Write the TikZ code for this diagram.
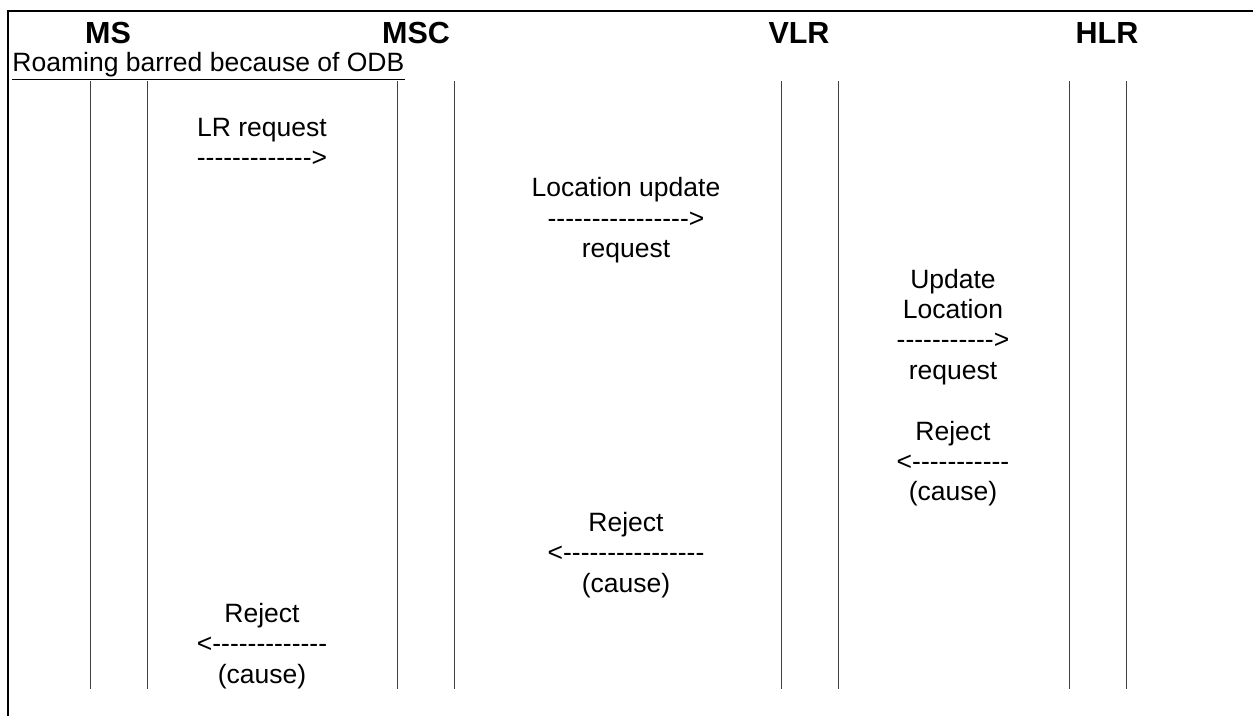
\documentclass[tikz,border=0pt]{standalone}
\usepackage{fontspec}
\setmainfont{Liberation Sans}[Ligatures=TeXOff]
\usetikzlibrary{
	calc,
	positioning
}
\tikzset{every path/.append style={line width=1pt}}
\tikzset{
	frame/.style={line width=2pt},
	life/.style={black!75,line width=1pt},
	head/.style={inner sep=0,anchor=base,font=\fontsize{30.5}{36}\selectfont\bfseries},
	msg/.style={inner sep=0,anchor=base,font=\fontsize{26.5}{30}\selectfont}
}
% lifeline: x, name
\newcommand{\tikzLife}[2]{%
	\coordinate (#2t) at (#1,81);
	\coordinate (#2b) at (#1,689);
	\draw[life] (#2t) -- (#2b);}
% message block: x, first row, name, lines
\newcommand{\tikzMsg}[4]{%
	\foreach \txt [count=\i from 0] in {#4}
		\node (#3\i) [msg] at (#1,{136+30.4*(#2+\i)}) {\txt};}

\begin{document}
\begin{tikzpicture}[x=1pt,y=-1pt]
	\useasboundingbox (0,0) rectangle (1253,716);
	\coordinate (fr) at (1253,11);
	\coordinate (fl) at (8,716);
	\draw[frame] (fr) -| (fl);
	
	\node (ms) [head] at (108,43) {MS};
	\node (msc) [head] at (416,43) {MSC};
	\node (vlr) [head] at (799,43) {VLR};
	\node (hlr) [head] at (1107,43) {HLR};
	
	\node (odb) [msg,anchor=base west] at (12,71) {Roaming barred because of ODB};
	\draw ($(odb.base west)+(0,8)$) -- ($(odb.base east)+(0,8)$);
	
	\tikzLife{90}{a1}
	\tikzLife{147}{a2}
	\tikzLife{397}{b1}
	\tikzLife{454}{b2}
	\tikzLife{781}{c1}
	\tikzLife{838}{c2}
	\tikzLife{1069}{d1}
	\tikzLife{1126}{d2}
	
	\tikzMsg{262}{0}{lr}{LR request,------------->}
	\tikzMsg{626}{2}{lu}{Location update,---------------->,request}
	\tikzMsg{953}{5}{ul}{Update,Location,----------->,request}
	\tikzMsg{953}{10}{rj}{Reject,<-----------,(cause)}
	\tikzMsg{626}{13}{rv}{Reject,<----------------,(cause)}
	\tikzMsg{262}{16}{rm}{Reject,<-------------,(cause)}
\end{tikzpicture}
\end{document}
